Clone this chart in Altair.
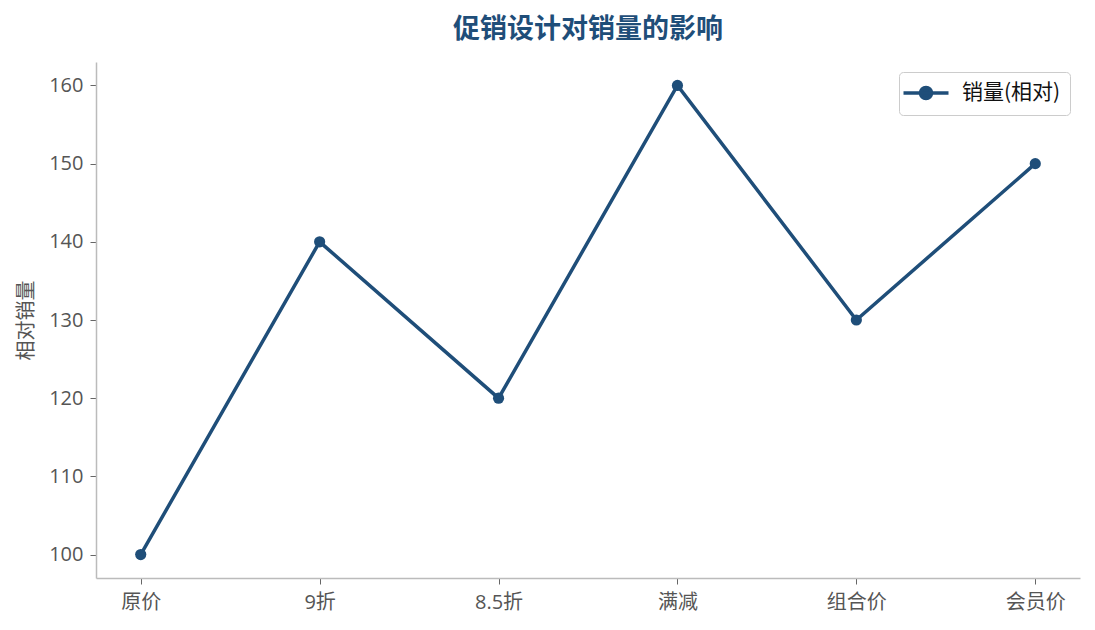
import altair as alt
import pandas as pd

categories = ["原价", "9折", "8.5折", "满减", "组合价", "会员价"]
sales = [100, 140, 120, 160, 130, 150]
series_name = "销量(相对)"

df = pd.DataFrame({"方案": categories, "销量": sales, "系列": [series_name] * len(categories)})

color = "#1f4e79"
font = "'Open Sans', 'Noto Sans CJK SC'"
cjk = "'Noto Sans CJK SC'"

x = alt.X("方案:N", sort=categories,
          scale=alt.Scale(type="point", padding=0.25),
          axis=alt.Axis(title=None, labelAngle=0, labelPadding=8))
y = alt.Y("销量:Q", scale=alt.Scale(domain=[97, 163], nice=False, zero=False),
          axis=alt.Axis(title="相对销量", values=[100, 110, 120, 130, 140, 150, 160],
                        labelPadding=7, titlePadding=12))
c = alt.Color("系列:N", scale=alt.Scale(range=[color]),
              legend=alt.Legend(title=None, orient="top-right", offset=10,
                                symbolType="M-2.25,0H2.25M-0.55,0A0.55,0.55 0 1,0 0.55,0A0.55,0.55 0 1,0 -0.55,0",
                                symbolSize=400, symbolStrokeWidth=3.5, symbolOffset=6,
                                symbolFillColor=color, symbolStrokeColor=color,
                                labelFontSize=21, labelColor="#111", labelFont=cjk,
                                padding=9, strokeColor="#cccccc", cornerRadius=4,
                                fillColor="white", labelOffset=24))

line = alt.Chart(df).mark_line(strokeWidth=3.5).encode(x=x, y=y, color=c)
pts = alt.Chart(df).mark_circle(size=125, opacity=1).encode(x=x, y=y, color=c)

chart = alt.layer(line, pts).properties(
    width=984, height=516,
    title=alt.TitleParams("促销设计对销量的影响", fontSize=27, fontWeight="bold",
                          color=color, font=cjk, anchor="middle", offset=18),
    autosize=alt.AutoSizeParams(type="none"),
    padding={"left": 88, "top": 54, "right": 7, "bottom": 44},
).configure_view(stroke=None).configure_axis(
    grid=False, domainColor="#bbbbbb", domainWidth=1.5, tickColor="#666666",
    tickSize=6, labelFontSize=20, labelColor="#555555", labelFont=font,
    titleFont=cjk, titleFontSize=20, titleColor="#555555", titleFontWeight="normal",
)

chart.save("out.html", embed_options={"renderer": "svg", "actions": False})
